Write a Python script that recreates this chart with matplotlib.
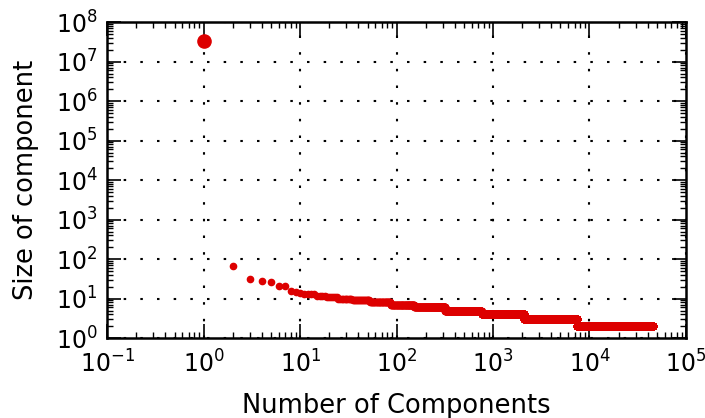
import numpy as np
import matplotlib
matplotlib.use("Agg")
import matplotlib.pyplot as plt
from matplotlib.ticker import LogLocator

# largest component (rank 1)
giant_rank = 1
giant_size = 3.4e7

# next few components, one by one (ranks 2..10)
top_sizes = [66, 32, 28, 26, 21, 21, 16, 15, 14]

# remaining components as runs: size value and the last rank holding it
run_sizes = [13, 12, 11, 10, 9, 8, 7, 6, 5, 4, 3, 2]
run_last_rank = [14, 18, 24, 34, 52, 86, 152, 318, 760, 2100, 7400, 45700]

sizes = list(top_sizes)
for s, last in zip(run_sizes, run_last_rank):
    sizes += [s] * (last - (len(sizes) + 1))
sizes = np.array(sizes)
ranks = np.arange(2, 2 + len(sizes))

red = '#dd0000'

fig = plt.figure(figsize=(7.05, 4.18), dpi=100)
ax = fig.add_axes([0.152, 0.191, 0.821, 0.756])

ax.loglog(ranks, sizes, 'o', color=red, markeredgecolor=red, markersize=4.5)
ax.loglog([giant_rank], [giant_size], 'o', color=red, markeredgecolor=red, markersize=9.5)

ax.set_xlim(1e-1, 1e5)
ax.set_ylim(1e0, 1e8)
for axis in (ax.xaxis, ax.yaxis):
    axis.set_major_locator(LogLocator(base=10, numticks=20))
    axis.set_minor_locator(LogLocator(base=10, subs=np.arange(2, 10), numticks=20))

ax.grid(True, which='major', color='black', linestyle=(0, (1.2, 6.8)), linewidth=1.5)
ax.tick_params(which='both', direction='in', top=True, right=True, labelsize=17)
ax.tick_params(which='major', length=10, width=1.2)
ax.tick_params(which='minor', length=4, width=1)
ax.tick_params(axis='x', pad=9)
ax.tick_params(axis='y', pad=7)
for sp in ax.spines.values():
    sp.set_linewidth(1.8)

ax.set_xlabel('Number of Components', fontsize=18.5, labelpad=11)
ax.set_ylabel('Size of component', fontsize=18.5, labelpad=12)

fig.savefig('out.png', dpi=100)
